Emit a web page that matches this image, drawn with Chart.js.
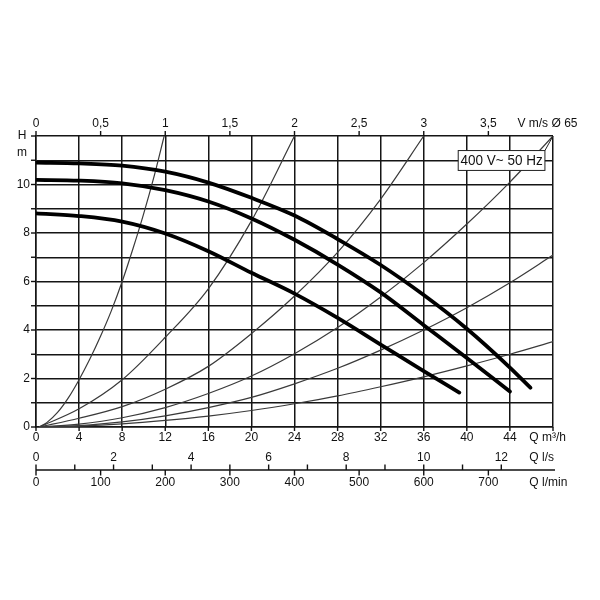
<!DOCTYPE html>
<html>
<head>
<meta charset="utf-8">
<script src="https://cdn.jsdelivr.net/npm/chart.js@4.4.1/dist/chart.umd.min.js"></script>
<style>
html,body{margin:0;padding:0;background:#fff;}
#c{display:block;}
</style>
</head>
<body>
<canvas id="c" width="600" height="600"></canvas>
<script>
// ---- Pump curves (Q m3/h -> H m) ----
const qPumpA = [0, 4, 8, 12, 16, 20, 24, 28, 32, 36, 40, 44, 45.9];
const hPumpA = [10.9, 10.87, 10.78, 10.53, 10.08, 9.45, 8.72, 7.75, 6.68, 5.44, 4.05, 2.45, 1.62];
const qPumpB = [0, 4, 8, 12, 16, 20, 24, 28, 32, 36, 40, 44];
const hPumpB = [10.19, 10.16, 10.05, 9.77, 9.3, 8.6, 7.72, 6.7, 5.55, 4.2, 2.85, 1.46];
const qPumpC = [0, 4, 8, 12, 16, 20, 24, 28, 32, 36, 39.3];
const hPumpC = [8.81, 8.7, 8.47, 7.98, 7.25, 6.36, 5.5, 4.5, 3.4, 2.3, 1.42];

// ---- System (velocity) curves ----
const qSys1 = [0.3, 1, 2, 3, 4, 5, 6, 7, 8, 9, 10, 11, 11.9];
const hSys1 = [0, 0.18, 0.6, 1.2, 1.95, 2.8, 3.75, 4.8, 6.0, 7.35, 8.8, 10.4, 12];
const qSys2 = [0.3, 4, 8, 12, 16, 20, 24];
const hSys2 = [0, 0.75, 1.95, 3.7, 5.7, 8.5, 12];
const qSys3 = [0.3, 4, 8, 12, 16, 20, 24, 28, 32, 36];
const hSys3 = [0, 0.36, 0.84, 1.56, 2.5, 3.85, 5.4, 7.2, 9.4, 12];
const qSys4 = [0.3, 4, 8, 12, 16, 20, 24, 28, 32, 36, 40, 44, 48];
const hSys4 = [0, 0.12, 0.38, 0.8, 1.38, 2.1, 3.02, 4.1, 5.36, 6.78, 8.37, 10.1, 12];
const qSys5 = [0.3, 4, 8, 12, 16, 20, 24, 28, 32, 36, 40, 44, 48];
const hSys5 = [0, 0.06, 0.21, 0.46, 0.8, 1.22, 1.78, 2.42, 3.17, 4.0, 4.92, 5.95, 7.09];
const qSys6 = [0.3, 4, 8, 12, 16, 20, 24, 28, 32, 36, 40, 44, 48];
const hSys6 = [0, 0.04, 0.13, 0.27, 0.45, 0.68, 0.96, 1.28, 1.66, 2.07, 2.52, 3.0, 3.52];

// ---- Tick labels ----
const qTickLabels = ['0','4','8','12','16','20','24','28','32','36','40','44'];
const hTickLabels = ['0','2','4','6','8','10'];
const vTickLabels = ['0','0,5','1','1,5','2','2,5','3','3,5'];
const lsTickLabels = ['0','2','4','6','8','10','12'];
const lminTickLabels = ['0','100','200','300','400','500','600','700'];
const legendText = '400 V~ 50 Hz';

function pts(qs, hs){ return qs.map((q,i)=>({x:q, y:hs[i]})); }

const FONT = '"Liberation Sans", Arial, sans-serif';

const sysStyle = {borderColor:'#3a3a3a', borderWidth:1.2, pointRadius:0, cubicInterpolationMode:'monotone', fill:false, order:2};
const pumpStyle = {borderColor:'#000', borderWidth:3.8, pointRadius:0, cubicInterpolationMode:'monotone', fill:false, borderCapStyle:'round', order:1};

const decor = {
  id:'decor',
  afterDraw(chart){
    const ctx = chart.ctx;
    const xs = chart.scales.x, ys = chart.scales.y;
    const L = xs.left, R = xs.right, T = ys.top, B = ys.bottom;
    ctx.save();
    ctx.strokeStyle = '#111';
    ctx.fillStyle = '#111';
    ctx.lineWidth = 1.4;
    ctx.font = '12px ' + FONT;
    ctx.textBaseline = 'middle';

    // top axis: V m/s (V = Q/12)
    ctx.textAlign = 'center';
    vTickLabels.forEach((lab,i)=>{
      const x = xs.getPixelForValue(i*0.5*12);
      ctx.beginPath(); ctx.moveTo(x, T-5); ctx.lineTo(x, T); ctx.stroke();
      ctx.fillText(lab, x, T-12);
    });
    ctx.textAlign = 'left';
    ctx.fillText('V m/s \u00D8 65', xs.getPixelForValue(44.7), T-12);

    // left axis
    for(let h=0; h<=12; h++){
      const y = ys.getPixelForValue(h);
      ctx.beginPath(); ctx.moveTo(L-5, y); ctx.lineTo(L, y); ctx.stroke();
    }
    ctx.textAlign = 'right';
    hTickLabels.forEach((lab,i)=>{
      ctx.fillText(lab, L-6, ys.getPixelForValue(i*2));
    });
    ctx.textAlign = 'center';
    ctx.fillText('H', L-14, ys.getPixelForValue(12));
    ctx.fillText('m', L-14, ys.getPixelForValue(11.3));

    // bottom Q m3/h axis
    qTickLabels.forEach((lab,i)=>{
      const x = xs.getPixelForValue(i*4);
      ctx.beginPath(); ctx.moveTo(x, B); ctx.lineTo(x, B+4); ctx.stroke();
      ctx.fillText(lab, x, B+11);
    });
    ctx.beginPath(); ctx.moveTo(R, B); ctx.lineTo(R, B+4); ctx.stroke();
    ctx.textAlign = 'left';
    ctx.fillText('Q m\u00B3/h', xs.getPixelForValue(45.8), B+11);

    // second axis: l/s (above) and l/min (below)
    const ay = B + 43;
    ctx.beginPath(); ctx.moveTo(L, ay); ctx.lineTo(R+2, ay); ctx.stroke();
    for(let i=0;i<=12;i++){
      const x = xs.getPixelForValue(i*3.6);
      ctx.beginPath(); ctx.moveTo(x, ay-5.5); ctx.lineTo(x, ay); ctx.stroke();
    }
    ctx.textAlign = 'center';
    lsTickLabels.forEach((lab,i)=>{
      ctx.fillText(lab, xs.getPixelForValue(i*2*3.6), ay-12);
    });
    lminTickLabels.forEach((lab,i)=>{
      const x = xs.getPixelForValue(i*100*0.06);
      ctx.beginPath(); ctx.moveTo(x, ay); ctx.lineTo(x, ay+5.5); ctx.stroke();
      ctx.fillText(lab, x, ay+13);
    });
    ctx.textAlign = 'left';
    ctx.fillText('Q l/s', xs.getPixelForValue(45.8), ay-12);
    ctx.fillText('Q l/min', xs.getPixelForValue(45.8), ay+13);

    // legend box
    const bx0 = xs.getPixelForValue(39.2), bx1 = xs.getPixelForValue(47.25);
    const by0 = ys.getPixelForValue(11.4), by1 = ys.getPixelForValue(10.58);
    ctx.fillStyle = '#fff';
    ctx.fillRect(bx0, by0, bx1-bx0, by1-by0);
    ctx.lineWidth = 1;
    ctx.strokeStyle = '#222';
    ctx.strokeRect(bx0, by0, bx1-bx0, by1-by0);
    ctx.beginPath(); ctx.moveTo(bx1, by0); ctx.lineTo(R, T); ctx.stroke();
    ctx.fillStyle = '#111';
    ctx.textAlign = 'center';
    ctx.font = '15px ' + FONT;
    ctx.translate((bx0+bx1)/2, (by0+by1)/2+0.5);
    ctx.scale(0.9, 1);
    ctx.fillText(legendText, 0, 0);
    ctx.restore();
  }
};

new Chart(document.getElementById('c'), {
  type:'line',
  data:{
    datasets:[
      Object.assign({data:pts(qPumpA,hPumpA)}, pumpStyle),
      Object.assign({data:pts(qPumpB,hPumpB)}, pumpStyle),
      Object.assign({data:pts(qPumpC,hPumpC)}, pumpStyle),
      Object.assign({data:pts(qSys1,hSys1)}, sysStyle),
      Object.assign({data:pts(qSys2,hSys2)}, sysStyle),
      Object.assign({data:pts(qSys3,hSys3)}, sysStyle),
      Object.assign({data:pts(qSys4,hSys4)}, sysStyle),
      Object.assign({data:pts(qSys5,hSys5)}, sysStyle),
      Object.assign({data:pts(qSys6,hSys6)}, sysStyle)
    ]
  },
  options:{
    responsive:false,
    animation:false,
    layout:{padding:{left:36, top:136, right:47, bottom:173}},
    plugins:{legend:{display:false}, tooltip:{enabled:false}},
    scales:{
      x:{type:'linear', min:0, max:48,
         ticks:{display:false, stepSize:4},
         grid:{color:'#151515', lineWidth:1.5, drawTicks:false},
         border:{display:true, color:'#151515', width:1.5}},
      y:{type:'linear', min:0, max:12,
         ticks:{display:false, stepSize:1},
         grid:{color:'#151515', lineWidth:1.5, drawTicks:false},
         border:{display:true, color:'#151515', width:1.5}}
    }
  },
  plugins:[decor]
});
</script>
</body>
</html>
